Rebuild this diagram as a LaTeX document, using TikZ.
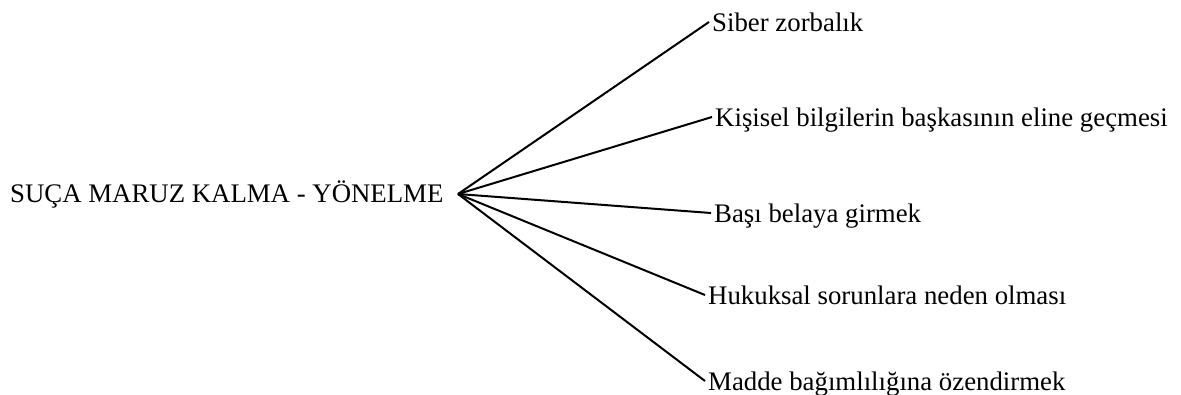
\documentclass[tikz,border=0pt]{standalone}
\usepackage{fontspec}
\setmainfont{Liberation Serif}
\begin{document}
\begin{tikzpicture}[x=1pt,y=-1pt,
  leaf/.style={anchor=base west, inner xsep=3pt, inner ysep=0pt, text height=18pt, text depth=0pt, font=\fontsize{26.8}{30}\selectfont},
  title/.style={anchor=base west, inner sep=0pt, font=\fontsize{26.8}{30}\selectfont},
  branch/.style={line width=2pt}]
\useasboundingbox (0,0) rectangle (1181,394);
\node[title] (t) at (10,202) {SUÇA MARUZ KALMA - YÖNELME};
\coordinate (hub) at (458,194);
\node[leaf] (a) at (709,31) {Siber zorbalık};
\node[leaf] (b) at (712,126) {Kişisel bilgilerin başkasının eline geçmesi};
\node[leaf] (c) at (711,222) {Başı belaya girmek};
\node[leaf] (d) at (705,304) {Hukuksal sorunlara neden olması};
\node[leaf] (e) at (705,390) {Madde bağımlılığına özendirmek};
\foreach \n in {a,b,c,d,e}
  \draw[branch] (hub) -- (\n.west);
\end{tikzpicture}
\end{document}
